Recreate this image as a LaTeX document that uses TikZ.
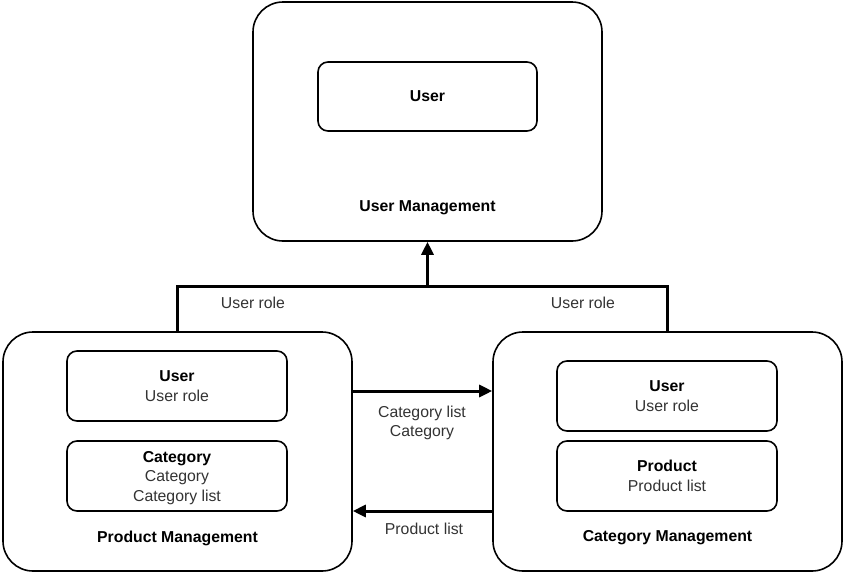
\documentclass[tikz,border=0pt]{standalone}
\usepackage{fontspec}
\setmainfont{Liberation Sans}
\usetikzlibrary{arrows.meta,calc}
\definecolor{txt}{HTML}{333333}
\begin{document}
\begin{tikzpicture}[x=1pt,y=-1pt,
  outerbox/.style={draw=black,line width=1.6pt,rounded corners=30pt,fill=white,inner sep=0pt},
  innerbox/.style={draw=black,line width=1.6pt,rounded corners=10pt,fill=white,minimum width=220pt,minimum height=70pt,align=center,inner sep=0pt,text=txt,font=\fontsize{15.8}{19.5}\selectfont},
  title/.style={font=\fontsize{15.8}{18}\selectfont\bfseries,text=black},
  lbl/.style={font=\fontsize{15.8}{19.5}\selectfont,text=txt,align=center},
  conn/.style={line width=3pt,-{Triangle[length=13pt,width=12pt]}},
  plain/.style={line width=3pt}
]
\useasboundingbox (0,0) rectangle (844,574);
% outer boxes
\node[outerbox,minimum width=349pt,minimum height=239pt] (um) at (427.5,121.5) {};
\node[outerbox,minimum width=349pt,minimum height=239pt] (pm) at (177.5,451.5) {};
\node[outerbox,minimum width=349pt,minimum height=239pt] (cm) at (667.5,451.5) {};
% titles
\node[title] (umt) at (427.5,208) {User Management};
\node[title] (pmt) at (177.5,538) {Product Management};
\node[title] (cmt) at (667.5,538) {Category Management};
% inner boxes
\node[innerbox,minimum width=219pt,minimum height=69pt] (uu) at (427.5,96.5) {\textcolor{black}{\bfseries User}};
\node[innerbox] (pu) at (177,386) {\textcolor{black}{\bfseries User}\\User role};
\node[innerbox] (pc) at (177,476) {};
\node[lbl] (pct) at (177,478) {\textcolor{black}{\bfseries Category}\\Category\\Category list};
\node[innerbox] (cu) at (667,396) {\textcolor{black}{\bfseries User}\\User role};
\node[innerbox] (cp) at (667,476) {\textcolor{black}{\bfseries Product}\\Product list};
% connectors
\coordinate (join) at (427.5,286);
\draw[plain] (pm.north) |- (join) -| (cm.north);
\draw[conn] (join) -- (um.south);
\coordinate (r1) at (352,391);
\coordinate (r2) at (352,511);
\draw[conn] (pm.east |- r1) -- (cm.west |- r1);
\draw[conn] (cm.west |- r2) -- (pm.east |- r2);
% labels
\node[lbl] (l1) at (253,303) {User role};
\node[lbl] (l2) at (583,303) {User role};
\node[lbl] (l3) at (422,423) {Category list\\Category};
\node[lbl] (l4) at (424,529) {Product list};
\end{tikzpicture}
\end{document}
